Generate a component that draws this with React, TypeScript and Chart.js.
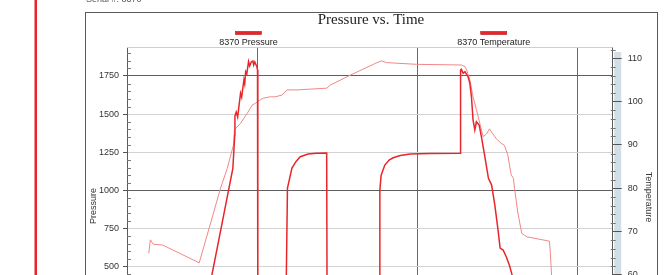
import React, { useEffect, useRef } from "react";
import { Chart, registerables } from "chart.js";

Chart.register(...registerables);

const chartTitle = "Pressure vs. Time";
const pressureLabel = "8370 Pressure";
const temperatureLabel = "8370 Temperature";
const headerText = "Serial #: 8370";

// time (x) for pressure series
const pressureTime = [
  63.6, 71.5, 84.6, 85.8, 85.9, 86.7, 87.6, 89.4, 90.1, 91.5, 92.0, 92.6, 93.3, 94.4, 95.1, 96.1, 97.1, 97.6, 98.3, 99.6, 100.0,
  100.2, 117.6, 118.0, 118.7, 121.5, 124.2, 126.7, 131.6, 136.6, 143.2, 143.5,
  176.2, 176.4, 177.2, 179.5, 182.2, 184.7, 189.1, 195.3, 207.8, 226.7,
  226.8, 227.3, 228.4, 229.5, 231.5, 232.6, 233.6, 234.6, 235.7, 236.7, 238.4, 239.8, 241.8, 244.2, 246.2, 248.2, 250.2,
  251.5, 253.4, 255.2, 257.3, 259.0, 269.6,
];
const pressureValues = [
  0, 445, 1145, 1363, 1488, 1514, 1481, 1637, 1612, 1724, 1698, 1778, 1763, 1844, 1816, 1842, 1848, 1822, 1842, 1811, 1789,
  0, 0, 445, 1015, 1146, 1192, 1221, 1238, 1243, 1245, 0,
  0, 1002, 1100, 1166, 1199, 1214, 1229, 1238, 1242, 1243,
  1789, 1794, 1768, 1778, 1745, 1702, 1614, 1461, 1396, 1450, 1429, 1352, 1232, 1079, 1035, 904, 740,
  622, 609, 569, 510, 445, 0,
];

// time (x) for temperature series
const temperatureTime = [
  32.1, 33.1, 34.9, 40.8, 63.6, 76.9, 81.1, 85.0, 85.6, 89.4, 93.6, 96.7, 98.6, 101.7, 103.7, 107.9, 111.0, 115.2,
  118.4, 124.6, 143.3, 145.4, 157.9, 173.5, 177.4, 180.5, 199.3, 227.3, 229.5, 230.6, 232.6, 234.6, 236.7, 238.8,
  240.9, 242.9, 244.9, 246.5, 249.2, 252.1, 254.2, 256.3, 258.4, 259.8, 260.5, 262.5, 265.0, 268.2, 282.3, 282.9,
  283.6, 284.0,
];
const temperatureValues = [
  65.0, 68.1, 67.1, 66.9, 62.8, 80.0, 84.6, 90.0, 93.5, 95.0, 97.3, 99.2, 99.6, 100.4, 100.8, 101.1, 101.1, 101.5,
  102.7, 102.7, 103.1, 103.8, 106.1, 108.8, 109.4, 109.0, 108.6, 108.45, 108.1, 107.3, 105.0, 101.1, 98.1, 95.0,
  91.9, 92.5, 93.7, 92.8, 91.4, 90.4, 89.9, 87.7, 83.1, 82.3, 80.0, 74.5, 69.6, 68.8, 67.8, 65.0,
  60.0, 50.0,
];

const pressureTicks = [0, 250, 500, 750, 1000, 1250, 1500, 1750];
const darkPressureLines = [1000, 1750];
const pressureMin = 0;
const pressureMax = 1940;
const pressureMinorStep = 50;
const temperatureTicks = [50, 60, 70, 80, 90, 100, 110];
const tempMin = 44.3;
const tempMax = 112.6;
const tempMinorStep = 2;
const timeTicks = [100, 200, 300];
const timeMin = 18.5;
const timeMax = 321.8;

const SANS = "'Liberation Sans', Arial, sans-serif";
const SERIF = "'Liberation Serif', 'Times New Roman', serif";

export default function App() {
  const ref = useRef<HTMLCanvasElement | null>(null);

  useEffect(() => {
    const canvas = ref.current;
    if (!canvas) return;

    const decor = {
      id: "decor",
      beforeDraw(chart: any) {
        const c = chart.ctx;
        const a = chart.chartArea;
        c.save();
        c.fillStyle = "#ffffff";
        c.fillRect(0, 0, chart.width, chart.height);
        c.fillStyle = "#e8232b";
        c.fillRect(34.5, 0, 2.5, chart.height);
        c.strokeStyle = "#5a5a5a";
        c.lineWidth = 1;
        c.strokeRect(85.5, 12.5, 572, chart.height);
        c.fillStyle = "#d2dee6";
        c.fillRect(a.right + 1.5, 52, 7, a.bottom - 52);
        c.restore();
      },
      afterDraw(chart: any) {
        const c = chart.ctx;
        const a = chart.chartArea;
        const ys = chart.scales.y;
        const y2 = chart.scales.y2;
        c.save();
        c.strokeStyle = "#cfcfcf";
        c.lineWidth = 1;
        c.beginPath();
        c.moveTo(a.left, Math.round(a.top) + 0.5);
        c.lineTo(a.right, Math.round(a.top) + 0.5);
        c.stroke();
        c.strokeStyle = "#777";
        for (let v = pressureMin + pressureMinorStep; v <= pressureMax; v += pressureMinorStep) {
          if (pressureTicks.includes(v)) continue;
          const py = Math.round(ys.getPixelForValue(v)) + 0.5;
          c.beginPath();
          c.moveTo(a.left, py);
          c.lineTo(a.left + 4, py);
          c.stroke();
        }
        for (let v = 46; v <= tempMax; v += tempMinorStep) {
          if (temperatureTicks.includes(v)) continue;
          const py = Math.round(y2.getPixelForValue(v)) + 0.5;
          c.beginPath();
          c.moveTo(a.right - 2, py);
          c.lineTo(a.right + 3, py);
          c.stroke();
        }
        c.fillStyle = "#555";
        c.font = `9px ${SANS}`;
        c.textAlign = "left";
        c.textBaseline = "alphabetic";
        c.fillText(headerText, 86, 2);
        c.fillStyle = "#222";
        c.font = `15px ${SERIF}`;
        c.textAlign = "center";
        c.fillText(chartTitle, 371, 23.5);
        const q1 = a.left + (a.right - a.left) * 0.25;
        const q3 = a.left + (a.right - a.left) * 0.755;
        const legend = [
          [q1, pressureLabel],
          [q3, temperatureLabel],
        ] as [number, string][];
        c.font = `9px ${SANS}`;
        for (const [cx, label] of legend) {
          c.fillStyle = "#e8262a";
          c.fillRect(cx - 13, 31.5, 26, 3);
          c.strokeStyle = "#b01818";
          c.lineWidth = 0.6;
          c.strokeRect(cx - 13, 31.5, 26, 3);
          c.fillStyle = "#222";
          c.fillText(label, cx, 45);
        }
        c.fillStyle = "#333";
        c.font = `9px ${SANS}`;
        c.translate(96, 206);
        c.rotate(-Math.PI / 2);
        c.textAlign = "center";
        c.fillText("Pressure", 0, 0);
        c.restore();
        c.save();
        c.fillStyle = "#333";
        c.font = `9px ${SANS}`;
        c.translate(646, 197);
        c.rotate(Math.PI / 2);
        c.textAlign = "center";
        c.fillText("Temperature", 0, 0);
        c.restore();
      },
    };

    const setTicks = (vals: number[]) => (s: any) => {
      s.ticks = vals.map((v) => ({ value: v }));
    };

    const chart = new Chart(canvas, {
      type: "line",
      data: {
        datasets: [
          {
            label: pressureLabel,
            data: pressureTime.map((t, i) => ({ x: t, y: pressureValues[i] })),
            yAxisID: "y",
            borderColor: "rgb(232,38,42)",
            borderWidth: 1.5,
            pointRadius: 0,
            tension: 0,
          },
          {
            label: temperatureLabel,
            data: temperatureTime.map((t, i) => ({ x: t, y: temperatureValues[i] })),
            yAxisID: "y2",
            borderColor: "rgb(242,135,135)",
            borderWidth: 1,
            pointRadius: 0,
            tension: 0,
          },
        ],
      },
      options: {
        animation: false,
        responsive: false,
        maintainAspectRatio: false,
        layout: { padding: { top: 47, left: 0, right: 0, bottom: 0 } },
        plugins: { legend: { display: false }, title: { display: false }, tooltip: { enabled: false } },
        scales: {
          x: {
            type: "linear",
            min: timeMin,
            max: timeMax,
            afterBuildTicks: setTicks(timeTicks),
            ticks: { display: false },
            grid: { color: "#6a6a6a", drawTicks: false },
            border: { display: false },
            afterFit: (s: any) => {
              s.height = 77;
            },
          },
          y: {
            position: "left",
            min: pressureMin,
            max: pressureMax,
            afterBuildTicks: setTicks(pressureTicks),
            ticks: {
              color: "#333",
              padding: 4,
              font: { size: 9, family: SANS },
              callback: (v: any) => String(v),
            },
            grid: {
              color: (ctx: any) => (ctx.tick && darkPressureLines.includes(ctx.tick.value) ? "#5e5e5e" : "#d2d2d2"),
              tickLength: 4,
              tickColor: "#555",
            },
            border: { color: "#5a5a5a" },
            afterFit: (s: any) => {
              s.width = 127;
            },
          },
          y2: {
            position: "right",
            min: tempMin,
            max: tempMax,
            afterBuildTicks: setTicks(temperatureTicks),
            ticks: {
              color: "#333",
              padding: 6,
              font: { size: 9, family: SANS },
              callback: (v: any) => String(v),
            },
            grid: { drawOnChartArea: false, tickLength: 9, tickColor: "#555" },
            border: { color: "#5a5a5a" },
            afterFit: (s: any) => {
              s.width = 58.3;
            },
          },
        },
      },
      plugins: [decor],
    });

    return () => chart.destroy();
  }, []);

  return (
    <div style={{ position: "absolute", left: 0, top: 0, width: 671, height: 420 }}>
      <canvas ref={ref} width={671} height={420} style={{ display: "block" }} />
    </div>
  );
}
